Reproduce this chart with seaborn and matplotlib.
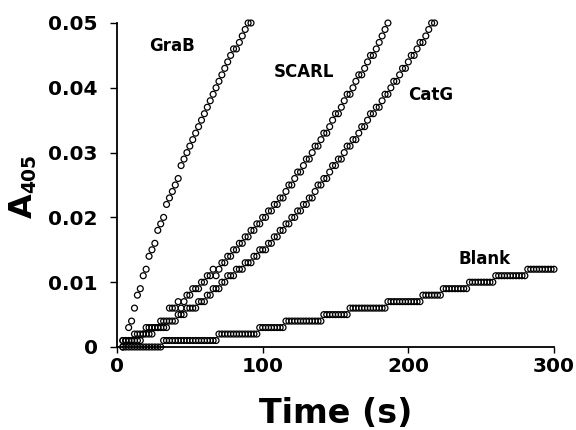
import pandas as pd
import seaborn as sns
import matplotlib.pyplot as plt

# Sampling times (s), shared by all four traces
time_s = [
    4, 6, 8, 10, 12, 14, 16, 18, 20, 22, 24, 26, 28, 30, 32, 34, 36, 38, 40, 42,
    44, 46, 48, 50, 52, 54, 56, 58, 60, 62, 64, 66, 68, 70, 72, 74, 76, 78, 80, 82,
    84, 86, 88, 90, 92, 94, 96, 98, 100, 102, 104, 106, 108, 110, 112, 114, 116, 118, 120, 122,
    124, 126, 128, 130, 132, 134, 136, 138, 140, 142, 144, 146, 148, 150, 152, 154, 156, 158, 160, 162,
    164, 166, 168, 170, 172, 174, 176, 178, 180, 182, 184, 186, 188, 190, 192, 194, 196, 198, 200, 202,
    204, 206, 208, 210, 212, 214, 216, 218, 220, 222, 224, 226, 228, 230, 232, 234, 236, 238, 240, 242,
    244, 246, 248, 250, 252, 254, 256, 258, 260, 262, 264, 266, 268, 270, 272, 274, 276, 278, 280, 282,
    284, 286, 288, 290, 292, 294, 296, 298, 300,
]

# A405 readings in milli-absorbance units
grab_mA = [0, 1, 3, 4, 6, 8, 9, 11, 12, 14,
           15, 16, 18, 19, 20, 22, 23, 24, 25, 26,
           28, 29, 30, 31, 32, 33, 34, 35, 36, 37,
           38, 39, 40, 41, 42, 43, 44, 45, 46, 46,
           47, 48, 49, 50, 50]

scarl_mA = [1, 1, 1, 1, 2, 2, 2, 2, 3, 3,
            3, 3, 3, 4, 4, 4, 6, 6, 6, 7,
            6, 7, 8, 8, 9, 9, 9, 10, 10, 11,
            11, 12, 11, 12, 13, 13, 14, 14, 15, 15,
            16, 16, 17, 17, 18, 18, 19, 19, 20, 20,
            21, 21, 22, 22, 23, 23, 24, 25, 25, 26,
            27, 27, 28, 29, 29, 30, 31, 31, 32, 33,
            33, 34, 35, 36, 36, 37, 38, 39, 39, 40,
            41, 42, 42, 43, 44, 45, 45, 46, 47, 48,
            49, 50]

catg_mA = [1, 1, 1, 1, 1, 1, 1, 2, 2, 2,
           2, 3, 3, 3, 3, 3, 4, 4, 4, 5,
           5, 5, 6, 6, 6, 6, 7, 7, 7, 8,
           8, 9, 9, 9, 10, 10, 11, 11, 11, 12,
           12, 12, 13, 13, 13, 14, 14, 15, 15, 15,
           16, 16, 17, 17, 18, 18, 19, 19, 20, 20,
           21, 21, 22, 22, 23, 23, 24, 25, 25, 26,
           26, 27, 28, 28, 29, 29, 30, 31, 31, 32,
           32, 33, 34, 34, 35, 36, 36, 37, 37, 38,
           39, 39, 40, 41, 41, 42, 43, 43, 44, 45,
           45, 46, 47, 47, 48, 49, 50, 50]

blank_mA = [0, 0, 0, 0, 0, 0, 0, 0, 0, 0, 0, 0, 0, 0,
            1, 1, 1, 1, 1, 1, 1, 1, 1, 1, 1, 1, 1, 1, 1, 1, 1, 1, 1,
            2, 2, 2, 2, 2, 2, 2, 2, 2, 2, 2, 2, 2, 2,
            3, 3, 3, 3, 3, 3, 3, 3, 3,
            4, 4, 4, 4, 4, 4, 4, 4, 4, 4, 4, 4, 4,
            5, 5, 5, 5, 5, 5, 5, 5, 5,
            6, 6, 6, 6, 6, 6, 6, 6, 6, 6, 6, 6, 6,
            7, 7, 7, 7, 7, 7, 7, 7, 7, 7, 7, 7,
            8, 8, 8, 8, 8, 8, 8,
            9, 9, 9, 9, 9, 9, 9, 9, 9,
            10, 10, 10, 10, 10, 10, 10, 10, 10,
            11, 11, 11, 11, 11, 11, 11, 11, 11, 11, 11,
            12, 12, 12, 12, 12, 12, 12, 12, 12, 12]

series = {'GraB': grab_mA, 'SCARL': scarl_mA, 'CatG': catg_mA, 'Blank': blank_mA}

# label positions (data coords)
label_names = ['GraB', 'SCARL', 'CatG', 'Blank']
label_x = [37.5, 128.5, 215.5, 252]
label_y = [0.0464, 0.0425, 0.0389, 0.01365]

frames = []
for name, vals in series.items():
    frames.append(pd.DataFrame({'Time': time_s[:len(vals)],
                                'A405': [v / 1000 for v in vals],
                                'Enzyme': name}))
data = pd.concat(frames, ignore_index=True)

sns.set_style('ticks')
plt.rcParams['font.family'] = ['DejaVu Sans']
plt.rcParams['font.weight'] = 'bold'
plt.rcParams['text.color'] = 'black'
plt.rcParams['xtick.color'] = 'black'
plt.rcParams['ytick.color'] = 'black'
plt.rcParams['axes.edgecolor'] = 'black'

W, H = 576, 430
fig = plt.figure(figsize=(W / 100, H / 100), dpi=100)
ax = fig.add_axes([117 / W, 1 - 347 / H, 437 / W, 324 / H])

for name in series:
    sub = data[data['Enzyme'] == name]
    sns.scatterplot(data=sub, x='Time', y='A405', ax=ax, marker='o', s=18,
                    facecolors='none', edgecolor='black', linewidth=0.9,
                    clip_on=False, zorder=3)

for name, lx, ly in zip(label_names, label_x, label_y):
    ax.text(lx, ly, name, ha='center', va='center', fontsize=12, fontweight='bold',
            color='black')

ax.set_xlim(0, 300)
ax.set_ylim(0, 0.05)
ax.set_xticks([0, 100, 200, 300])
ax.set_xticklabels(['0', '100', '200', '300'])
ax.set_yticks([0, 0.01, 0.02, 0.03, 0.04, 0.05])
ax.set_yticklabels(['0', '0.01', '0.02', '0.03', '0.04', '0.05'])
ax.tick_params(axis='x', labelsize=14.5, width=1, length=4.5, pad=3, direction='out',
               color='black', labelcolor='black')
ax.tick_params(axis='y', labelsize=14.5, width=1, length=5, pad=9, direction='out',
               color='black', labelcolor='black')
for lab in ax.get_xticklabels() + ax.get_yticklabels():
    lab.set_fontweight('bold')
sns.despine(ax=ax)
for side in ['left', 'bottom']:
    ax.spines[side].set_linewidth(1.3)
    ax.spines[side].set_color('black')
ax.set_xlabel('')
ax.set_ylabel('')

fig.text(336 / W, 1 - 423 / H, 'Time (s)', ha='center', va='baseline',
         fontsize=24, fontweight='bold', color='black')

# y label: large "A" followed by smaller "405" on the same baseline
a_txt = fig.text(39 / W, 0.5, 'A', rotation=90, ha='right', va='bottom',
                 fontsize=23, fontweight='bold', color='black')
n_txt = fig.text(39 / W, 0.5, '405', rotation=90, ha='right', va='bottom',
                 fontsize=13.5, fontweight='bold', color='black')
fig.canvas.draw()
rend = fig.canvas.get_renderer()
a_len = a_txt.get_window_extent(rend).height
n_len = n_txt.get_window_extent(rend).height
centre = H - 186
start = centre - (a_len + n_len) / 2
a_txt.set_y(start / H)
n_txt.set_y((start + a_len) / H)

plt.savefig('out.png', dpi=100)
plt.close()
